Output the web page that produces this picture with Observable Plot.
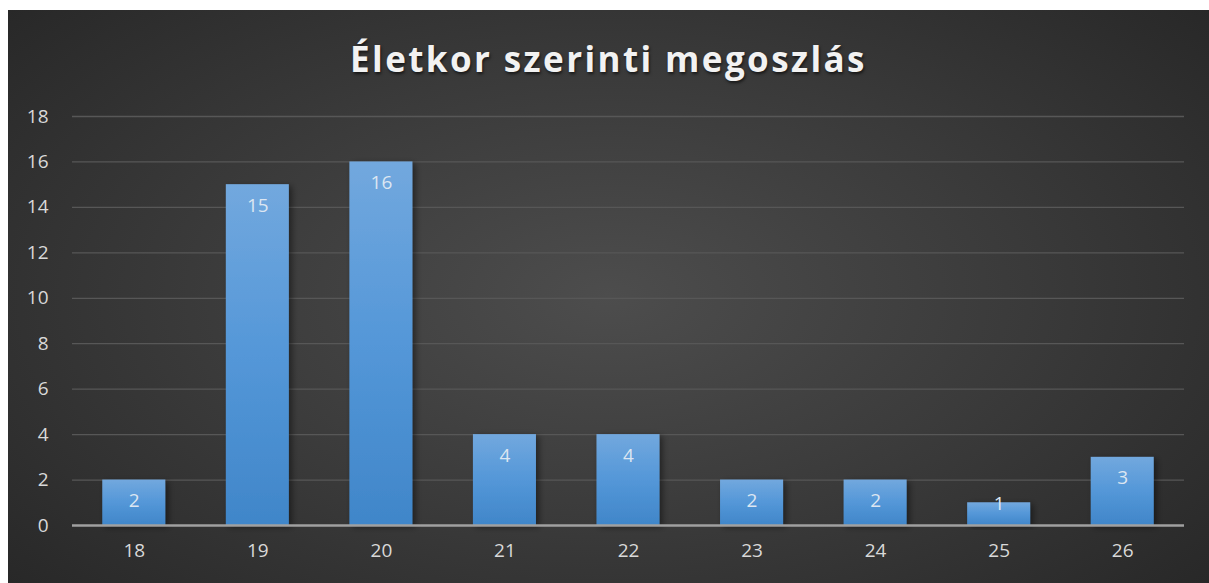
<!DOCTYPE html>
<html>
<head>
<meta charset="utf-8">
<script src="https://cdn.jsdelivr.net/npm/d3@7"></script>
<script src="https://cdn.jsdelivr.net/npm/@observablehq/plot@0.6"></script>
<style>
  html, body { margin: 0; padding: 0; background: #ffffff; }
  #panel {
    position: absolute; left: 8px; top: 10px; width: 1201px; height: 573px;
    background: radial-gradient(ellipse 70% 80% at 50% 50%, #4d4d4d 0%, #3a3a3a 50%, #262626 100%);
    overflow: hidden;
  }
  #title {
    height: 90px; margin: 0; padding: 0;
    font-family: "Open Sans", sans-serif; font-weight: 700; font-size: 35px;
    letter-spacing: 2.4px; color: #f2f2f2; text-align: center;
    line-height: 98px;
    text-shadow: 1px 2px 3px rgba(0,0,0,0.6);
  }
  #chart svg { display: block; }
  #chart svg text { font-size: 19px; font-family: "Open Sans", sans-serif; }
</style>
</head>
<body>
<div id="panel">
  <div id="title">Életkor szerinti megoszlás</div>
  <div id="chart"></div>
</div>
<script>
const ages = ["18", "19", "20", "21", "22", "23", "24", "25", "26"];
const counts = [2, 15, 16, 4, 4, 2, 2, 1, 3];
const yTicks = [0, 2, 4, 6, 8, 10, 12, 14, 16, 18];

const data = ages.map((a, i) => ({age: a, count: counts[i]}));

const defs = () => {
  const ns = "http://www.w3.org/2000/svg";
  const d = document.createElementNS(ns, "defs");
  d.innerHTML = `
    <linearGradient id="barGrad" x1="0" y1="0" x2="0" y2="1">
      <stop offset="0" stop-color="#72a8de"/>
      <stop offset="0.5" stop-color="#5497d8"/>
      <stop offset="1" stop-color="#4086c9"/>
    </linearGradient>
    <filter id="shadow" x="-20%" y="-20%" width="150%" height="140%">
      <feDropShadow dx="3" dy="2" stdDeviation="3" flood-color="#000" flood-opacity="0.45"/>
    </filter>`;
  return d;
};

const chart = Plot.plot({
  width: 1201,
  height: 483,
  marginLeft: 64,
  marginRight: 25,
  marginTop: 16,
  marginBottom: 58,
  style: {background: "transparent", fontFamily: "'Open Sans', sans-serif", fontSize: "19px", color: "#d9d9d9"},
  x: {domain: ages, paddingInner: 0.49, paddingOuter: 0.245, round: false, label: null},
  y: {domain: [0, 18], ticks: yTicks, label: null},
  marks: [
    defs,
    Plot.ruleY(yTicks.filter(t => t > 0), {stroke: "#575757", strokeWidth: 1.3}),
    Plot.axisY({ticks: yTicks, tickSize: 0, tickPadding: 24, fill: "#d9d9d9", label: null}),
    Plot.axisX({tickSize: 0, tickPadding: 18, fill: "#d9d9d9", label: null}),
    Plot.barY(data, {x: "age", y: "count", fill: "url(#barGrad)"}),
    Plot.ruleY([0], {stroke: "#a0a0a0", strokeWidth: 2.5}),
    Plot.text(data, {x: "age", y: d => Math.max(d.count, 1.88), text: d => String(d.count), dy: 21, fill: "#dce6f2"})
  ]
});
chart.querySelectorAll("rect").forEach(r => r.setAttribute("filter", "url(#shadow)"));
document.getElementById("chart").appendChild(chart);
</script>
</body>
</html>
